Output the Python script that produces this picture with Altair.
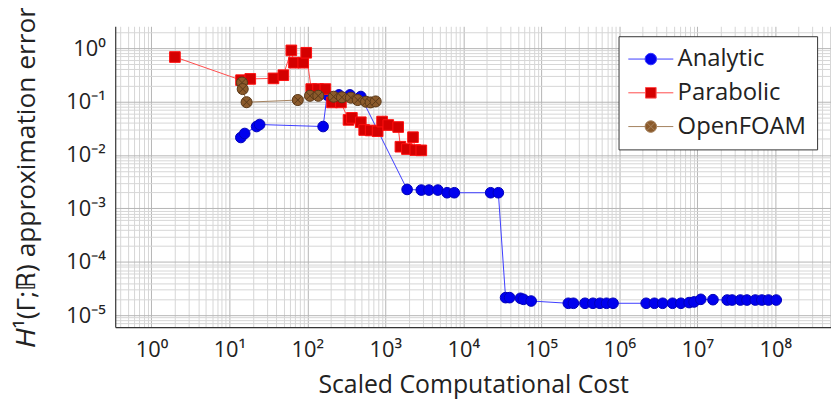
import altair as alt
import pandas as pd

FONT = "Open Sans"
series_names = ["Analytic", "Parabolic", "OpenFOAM"]

analytic_cost = [14.0, 15.7, 22.3, 24.4, 159, 179, 254, 351, 484,
                 1900, 2890, 3620, 4710, 6190, 7660, 22400, 28100,
                 34800, 39200, 54000, 59000, 74000,
                 222000, 258000, 363000, 459000, 564000, 686000, 832000,
                 2.21e6, 2.82e6, 3.60e6, 4.82e6, 6.17e6, 7.87e6, 9.1e6,
                 1.11e7, 1.59e7, 2.42e7, 2.80e7, 3.57e7, 4.34e7, 5.55e7,
                 6.73e7, 8.19e7, 1.03e8]
analytic_err = [0.0212, 0.0252, 0.034, 0.0371, 0.034, 0.132, 0.133, 0.133, 0.124,
                0.00226, 0.0022, 0.0022, 0.0022, 0.00196, 0.00196, 0.00196, 0.00196,
                2.13e-5, 2.13e-5, 2.07e-5, 1.98e-5, 1.84e-5,
                1.67e-5, 1.67e-5, 1.67e-5, 1.67e-5, 1.67e-5, 1.67e-5, 1.67e-5,
                1.67e-5, 1.67e-5, 1.67e-5, 1.67e-5, 1.67e-5, 1.72e-5, 1.77e-5,
                1.98e-5, 1.95e-5, 1.92e-5, 1.92e-5, 1.92e-5, 1.92e-5, 1.92e-5,
                1.92e-5, 1.92e-5, 1.92e-5]

parabolic_cost = [2.00, 14.1, 18.5, 36.7, 49.2, 62.2, 67.3, 88.4, 96.6,
                  112, 137, 170, 207, 269, 337, 372, 484, 535, 648, 796,
                  908, 1090, 1460, 1560, 1890, 2260, 2420, 2890]
parabolic_err = [0.681, 0.251, 0.265, 0.271, 0.311, 0.906, 0.533, 0.533, 0.818,
                 0.171, 0.171, 0.171, 0.0962, 0.0962, 0.0453, 0.0494, 0.0409,
                 0.0293, 0.0287, 0.0278, 0.0421, 0.0363, 0.0333, 0.01426,
                 0.01288, 0.0215, 0.01233, 0.01218]

openfoam_cost = [14.5, 14.8, 16.6, 75.3, 108, 138, 217, 277, 361, 442, 565, 648, 751]
openfoam_err = [0.226, 0.171, 0.097, 0.1066, 0.128, 0.128, 0.123, 0.120, 0.118,
                0.1066, 0.0992, 0.0962, 0.1004]

fill_colors = ["#0000ee", "#d40000", "#8b5a2b"]
marker_strokes = ["#0000b8", "#ff1010", "#5a3818"]
line_colors = ["#3c3cff", "#ff4c4c", "#a4815e"]

# marker shapes (custom path for the crossed circle)
brown_marker = ("M1.04,0A1.04,1.04,0,1,1,-1.04,0A1.04,1.04,0,1,1,1.04,0Z"
                "M-0.72,-0.72L0.72,0.72M-0.72,0.72L0.72,-0.72")
shape_range = ["circle", "square", brown_marker]

circ = "M1,0A1,1,0,1,1,-1,0A1,1,0,1,1,1,0Z"
leg_a = "M-3.9,0H-1M1,0H3.9" + circ
leg_p = "M-3.9,0H-0.92M0.92,0H3.9M-0.92,-0.92H0.92V0.92H-0.92Z"
leg_o = "M-3.9,0H-1M1,0H3.9" + circ + "M-0.7,-0.7L0.7,0.7M-0.7,0.7L0.7,-0.7"

rows = []
for name, xs, ys in [("Analytic", analytic_cost, analytic_err),
                     ("Parabolic", parabolic_cost, parabolic_err),
                     ("OpenFOAM", openfoam_cost, openfoam_err)]:
    for i, (xv, yv) in enumerate(zip(xs, ys)):
        rows.append({"series": name, "cost": xv, "err": yv, "idx": i})
df = pd.DataFrame(rows)

x_domain = [0.343, 5.19e8]
y_domain = [5.98e-6, 2.56]
x_vals = [m * 10.0 ** e for e in range(-1, 9) for m in range(1, 10)
          if x_domain[0] <= m * 10.0 ** e <= x_domain[1]]
y_vals = [m * 10.0 ** e for e in range(-6, 1) for m in range(1, 10)
          if y_domain[0] <= m * 10.0 ** e <= y_domain[1]]

LG = "(log(datum.value)/LN10)"
sup = "['⁰','¹','²','³','⁴','⁵','⁶','⁷','⁸','⁹']"
label_expr = (f"abs({LG} - round({LG})) < 0.01 ? '10' + (round({LG}) < 0 ? '⁻' : '') + "
              f"{sup}[abs(round({LG}))] : ''")
grid_color = {"condition": {"test": f"abs({LG} - round({LG})) < 0.01", "value": "#b4b4b4"},
              "value": "#d6d6d6"}

x_axis = alt.Axis(values=x_vals, labelExpr=label_expr, title="Scaled Computational Cost",
                  grid=True, gridColor=grid_color, ticks=False, labelOverlap=False,
                  labelFont=FONT, labelFontSize=22, labelColor="#222",
                  titleFont=FONT, titleFontSize=25, titleFontWeight="normal", titleColor="#222",
                  labelPadding=13, titlePadding=12, domainColor="#333", domainWidth=1.2)
y_axis = alt.Axis(values=y_vals, labelExpr=label_expr, title="𝐻¹(Γ;ℝ) approximation error",
                  grid=True, gridColor=grid_color, ticks=False, labelOverlap=False,
                  labelFont=FONT, labelFontSize=22, labelColor="#222",
                  titleFont=FONT, titleFontSize=26.5, titleFontWeight="normal", titleColor="#222",
                  labelPadding=10, titlePadding=26, domainColor="#333", domainWidth=1.2)

x_enc = alt.X("cost:Q", scale=alt.Scale(type="log", domain=x_domain, nice=False), axis=x_axis)
y_enc = alt.Y("err:Q", scale=alt.Scale(type="log", domain=y_domain, nice=False), axis=y_axis)

sym_expr = (f"datum.value === 'Analytic' ? '{leg_a}' : "
            f"(datum.value === 'Parabolic' ? '{leg_p}' : '{leg_o}')")
sym_fill = (f"datum.value === 'Analytic' ? '{fill_colors[0]}' : "
            f"(datum.value === 'Parabolic' ? '{fill_colors[1]}' : '{fill_colors[2]}')")

legend = alt.Legend(
    title=None, orient="none", legendX=507, legendY=10,
    symbolSize=135, symbolStrokeWidth=1, symbolOffset=9.5, labelOffset=15,
    symbolType=alt.ExprRef(expr=sym_expr), symbolFillColor=alt.ExprRef(expr=sym_fill),
    labelFont=FONT, labelFontSize=24, labelColor="#222",
    padding=11, rowPadding=10, strokeColor="#333", fillColor="white", cornerRadius=0,
)

lines = alt.Chart(df).mark_line(strokeWidth=1).encode(
    x=x_enc, y=y_enc,
    stroke=alt.Stroke("series:N", scale=alt.Scale(domain=series_names, range=line_colors), legend=legend),
    detail="series:N",
    order="idx:Q",
)

points = alt.Chart(df).mark_point(filled=True, size=115, opacity=1, strokeWidth=1).encode(
    x=x_enc, y=y_enc,
    color=alt.Color("series:N", scale=alt.Scale(domain=series_names, range=fill_colors), legend=None),
    shape=alt.Shape("series:N", scale=alt.Scale(domain=series_names, range=shape_range), legend=None),
    stroke=alt.Stroke("series:N", scale=alt.Scale(domain=series_names, range=marker_strokes), legend=None),
)

chart = alt.layer(lines, points).resolve_scale(stroke="independent").properties(
    width=721, height=303,
    autosize=alt.AutoSizeParams(type="none"),
    padding={"left": 108, "top": 17, "right": 0, "bottom": 72},
).configure_view(stroke="transparent")

chart.save("out.html", embed_options={"renderer": "svg", "actions": False})
